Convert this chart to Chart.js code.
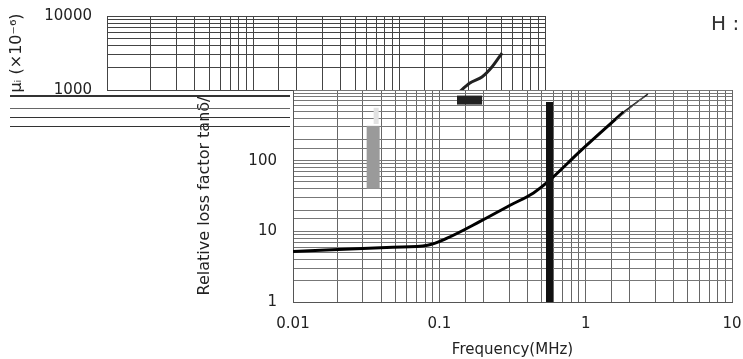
<!DOCTYPE html>
<html>
<head>
<meta charset="utf-8">
<script src="https://cdn.jsdelivr.net/npm/chart.js@4.4.1/dist/chart.umd.min.js"></script>
<style>
body{margin:0;background:#fff;width:743px;height:359px;overflow:hidden;position:relative;font-family:"DejaVu Sans";}
#topWrap{position:absolute;left:0;top:0;width:560px;height:100px;}
#mainWrap{position:absolute;left:0;top:0;width:743px;height:359px;}
.glitch{position:absolute;left:10px;width:280px;height:1px;background:#333;}
#hlabel{position:absolute;left:711px;top:11px;font-size:20px;color:#333;}
</style>
</head>
<body>
<div id="topWrap"><canvas id="top" width="560" height="100"></canvas></div>
<div id="mainWrap"><canvas id="main" width="743" height="359"></canvas></div>
<div class="glitch" style="top:95px;height:2px;"></div>
<div class="glitch" style="top:108px;background:#666;"></div>
<div class="glitch" style="top:117px;"></div>
<div class="glitch" style="top:126px;"></div>
<div id="hlabel">H :</div>
<script>
// loss factor curve (main chart)
const freq = [0.01, 0.048, 0.083, 0.113, 0.19, 0.3, 0.44, 0.55, 0.93, 1.82];
const lossFactor = [5.2, 5.95, 6.35, 8.0, 13.8, 23, 35, 50, 140, 490];
const tailFreq = [1.82, 2.66];
const tailLoss = [490, 875];
const tail2Freq = [1.62, 2.5];
const tail2Loss = [380, 800];

// initial permeability curve (top chart)
const muFreq = [2.54, 3.06, 3.70, 4.33, 5.08];
const muValues = [910, 1243, 1500, 2045, 3160];

// bars / blocks
const blackBarFreq = [0.566, 0.566];
const blackBarLoss = [1, 676];
const grayBarFreq = [0.0353, 0.0353];
const grayBarLoss = [40, 311];
const grayTopFreq = [0.037, 0.037];
const grayTopLoss = [330, 560];
const blockFreq = [0.132, 0.196];
const blockLoss = [720, 720];

// tick labels / grid values
const xTickLabels = ["0.01", "0.1", "1", "10"];
const lossTickLabels = ["1", "10", "100"];
const muTickLabels = ["1000", "10000"];
const muGrid = [1000, 2000, 3000, 4000, 5000, 6000, 7000, 8000, 9000, 10000];

const pts = (xs, ys) => xs.map((x, i) => ({x: x, y: ys[i]}));
const pick = (list) => (v) => {
    const hit = list.find(t => Math.abs(+t - v) / +t < 1e-6);
    return hit ? hit : '';
};
const font = {family: 'DejaVu Sans', size: 15};

const plotBg = {
    id: 'plotBg',
    beforeDraw(c) {
        const {ctx, chartArea: a} = c;
        ctx.save();
        ctx.fillStyle = '#fff';
        ctx.fillRect(a.left, a.top, a.right - a.left, a.bottom - a.top);
        ctx.restore();
    }
};

new Chart(document.getElementById('top'), {
    type: 'line',
    data: {
        datasets: [{
            data: pts(muFreq, muValues),
            borderColor: '#222', borderWidth: 3, pointRadius: 0, tension: 0.3
        }]
    },
    options: {
        responsive: false, animation: false,
        layout: {padding: {left: 0, right: 15, top: 16, bottom: 10}},
        plugins: {legend: {display: false}, tooltip: {enabled: false}},
        scales: {
            x: {
                type: 'logarithmic', min: 0.01, max: 10,
                ticks: {display: false},
                grid: {color: '#444', drawTicks: false},
                border: {display: false},
                afterFit(s) { s.height = 0; s.paddingLeft = 0; s.paddingRight = 0; }
            },
            y: {
                type: 'logarithmic', min: 1000, max: 10000,
                afterBuildTicks(s) { s.ticks = muGrid.map(v => ({value: v})); },
                ticks: {callback: pick(muTickLabels), color: '#222', font: font, padding: 15, autoSkip: false},
                grid: {color: '#444', drawTicks: false},
                border: {color: '#444'},
                title: {display: true, text: 'μᵢ (×10⁻⁶)', color: '#222', font: {family: 'DejaVu Sans', size: 16}, padding: {top: 7, bottom: 0}},
                afterFit(s) { s.width = 107; s.paddingTop = 0; s.paddingBottom = 0; }
            }
        }
    }
});

new Chart(document.getElementById('main'), {
    type: 'line',
    data: {
        datasets: [
            {data: pts(grayTopFreq, grayTopLoss), borderColor: '#e2e2e2', borderWidth: 5, borderCapStyle: 'butt', pointRadius: 0},
            {data: pts(grayBarFreq, grayBarLoss), borderColor: '#9a9a9a', borderWidth: 13, borderCapStyle: 'butt', pointRadius: 0},
            {data: pts(blackBarFreq, blackBarLoss), borderColor: '#111', borderWidth: 7, borderCapStyle: 'butt', pointRadius: 0},
            {data: pts(blockFreq, blockLoss), borderColor: '#222', borderWidth: 9, borderCapStyle: 'butt', pointRadius: 0},
            {data: pts(tail2Freq, tail2Loss), borderColor: '#666', borderWidth: 1, pointRadius: 0},
            {data: pts(tailFreq, tailLoss), borderColor: '#222', borderWidth: 1.5, pointRadius: 0},
            {data: pts(freq, lossFactor), borderColor: '#000', borderWidth: 3, pointRadius: 0, cubicInterpolationMode: 'monotone'}
        ]
    },
    plugins: [plotBg],
    options: {
        responsive: false, animation: false,
        layout: {padding: {left: 191, right: 11, top: 90, bottom: 0}},
        plugins: {legend: {display: false}, tooltip: {enabled: false}},
        scales: {
            x: {
                type: 'logarithmic', min: 0.01, max: 10,
                ticks: {callback: pick(xTickLabels), color: '#222', font: font, padding: 13, autoSkip: false, maxRotation: 0},
                grid: {color: '#666', drawTicks: false},
                border: {color: '#555'},
                title: {display: true, text: 'Frequency(MHz)', color: '#222', font: font, padding: {top: 0, bottom: 0}},
                afterFit(s) { s.height = 57; s.paddingLeft = 0; s.paddingRight = 0; }
            },
            y: {
                type: 'logarithmic', min: 1, max: 1000,
                ticks: {callback: pick(lossTickLabels), color: '#222', font: font, padding: 16, autoSkip: false},
                grid: {color: '#777', drawTicks: false},
                border: {color: '#555'},
                title: {display: true, text: 'Relative loss factor tanδ/', color: '#222', font: {family: 'DejaVu Sans', size: 16}, padding: {top: 4, bottom: 0}},
                afterFit(s) { s.width = 102; s.paddingTop = 0; s.paddingBottom = 0; }
            }
        }
    }
});
</script>
</body>
</html>
